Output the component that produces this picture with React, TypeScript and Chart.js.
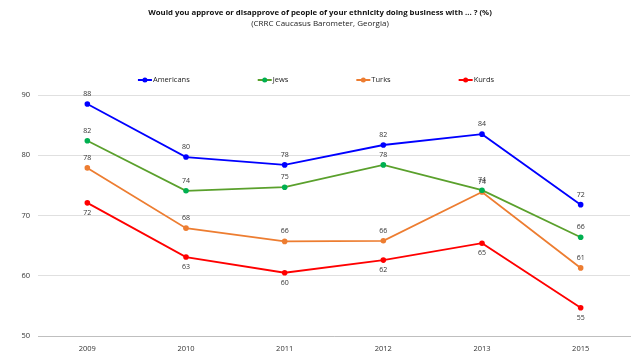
import React, { useEffect, useRef } from "react";
import { Chart, registerables } from "chart.js";

Chart.register(...registerables);

const years = ["2009", "2010", "2011", "2012", "2013", "2015"];
const americans = [88.5, 79.7, 78.4, 81.7, 83.5, 71.8];
const jews = [82.4, 74.1, 74.7, 78.4, 74.2, 66.4];
const turks = [77.9, 67.9, 65.7, 65.8, 73.9, 61.3];
const kurds = [72.1, 63.1, 60.5, 62.6, 65.4, 54.7];
const americansLabels = ["88", "80", "78", "82", "84", "72"];
const jewsLabels = ["82", "74", "75", "78", "74", "66"];
const turksLabels = ["78", "68", "66", "66", "74", "61"];
const kurdsLabels = ["72", "63", "60", "62", "65", "55"];
const yTicks = [50, 60, 70, 80, 90];

const FONT = "'Open Sans', 'Liberation Sans', sans-serif";

export default function App() {
  const ref = useRef<HTMLCanvasElement | null>(null);
  useEffect(() => {
    if (!ref.current) return;
    const series = [
      { label: "Americans", data: americans, labels: americansLabels, color: "#0000ff", point: "#0000ff", below: false },
      { label: "Jews", data: jews, labels: jewsLabels, color: "#5aa02c", point: "#00b050", below: false },
      { label: "Turks", data: turks, labels: turksLabels, color: "#ed7d31", point: "#ed7d31", below: false },
      { label: "Kurds", data: kurds, labels: kurdsLabels, color: "#ff0000", point: "#ff0000", below: true },
    ];
    const overlay = {
      id: "overlay",
      afterDatasetsDraw(chart: any) {
        const ctx = chart.ctx;
        ctx.save();
        // data labels
        ctx.font = `7px ${FONT}`;
        ctx.fillStyle = "#333";
        ctx.textAlign = "center";
        ctx.textBaseline = "middle";
        series.forEach((s, i) => {
          const meta = chart.getDatasetMeta(i);
          meta.data.forEach((pt: any, j: number) => {
            const dy = s.below ? 10 : -10;
            ctx.fillText(s.labels[j], pt.x, pt.y + dy);
          });
        });
        // title
        ctx.fillStyle = "#111";
        ctx.font = `bold 7.8px ${FONT}`;
        ctx.fillText("Would you approve or disapprove of people of your ethnicity doing business with ... ? (%)", 320, 13);
        ctx.font = `8px ${FONT}`;
        ctx.fillStyle = "#222";
        ctx.fillText("(CRRC Caucasus Barometer, Georgia)", 320, 24);
        // legend
        ctx.font = `7.5px ${FONT}`;
        ctx.textAlign = "left";
        const gap = 68;
        const widths = series.map((s) => 15 + ctx.measureText(s.label).width);
        const total = widths.reduce((a, b) => a + b, 0) + gap * (series.length - 1);
        let x = 316 - total / 2;
        const y = 80;
        series.forEach((s, i) => {
          ctx.strokeStyle = s.color;
          ctx.lineWidth = 2;
          ctx.beginPath();
          ctx.moveTo(x, y);
          ctx.lineTo(x + 14, y);
          ctx.stroke();
          ctx.fillStyle = s.point;
          ctx.beginPath();
          ctx.arc(x + 7, y, 2.5, 0, Math.PI * 2);
          ctx.fill();
          ctx.fillStyle = "#222";
          ctx.fillText(s.label, x + 15, y);
          x += widths[i] + gap;
        });
        ctx.restore();
      },
    };
    const chart = new Chart(ref.current, {
      type: "line",
      data: {
        labels: years,
        datasets: series.map((s) => ({
          label: s.label,
          data: s.data,
          borderColor: s.color,
          backgroundColor: s.point,
          pointBackgroundColor: s.point,
          pointBorderColor: s.point,
          borderWidth: 1.8,
          pointRadius: 2.8,
          pointBorderWidth: 0,
          tension: 0,
          fill: false,
        })),
      },
      options: {
        animation: false,
        responsive: false,
        layout: { padding: { top: 95, right: 10, left: 0, bottom: 0 } },
        plugins: { legend: { display: false }, title: { display: false }, tooltip: { enabled: false } },
        scales: {
          x: {
            offset: true,
            grid: { display: false, drawTicks: false },
            border: { display: true, color: "#bfbfbf", width: 1 },
            ticks: { color: "#333", font: { family: FONT, size: 7.5 }, padding: 8 },
            afterFit: (scale: any) => { scale.height = 24; },
          },
          y: {
            min: 50,
            max: 90,
            afterBuildTicks: (scale: any) => { scale.ticks = yTicks.map((v) => ({ value: v })); },
            grid: { color: "#e0e0e0", drawTicks: false },
            border: { display: false },
            ticks: { color: "#333", font: { family: FONT, size: 7.5 }, padding: 8 },
            afterFit: (scale: any) => { scale.width = 38; },
          },
        },
      },
      plugins: [overlay],
    });
    return () => chart.destroy();
  }, []);
  return (
    <div style={{ position: "fixed", left: 0, top: 0, width: 640, height: 360, background: "#fff" }}>
      <canvas ref={ref} width={640} height={360} style={{ width: 640, height: 360 }} />
    </div>
  );
}
